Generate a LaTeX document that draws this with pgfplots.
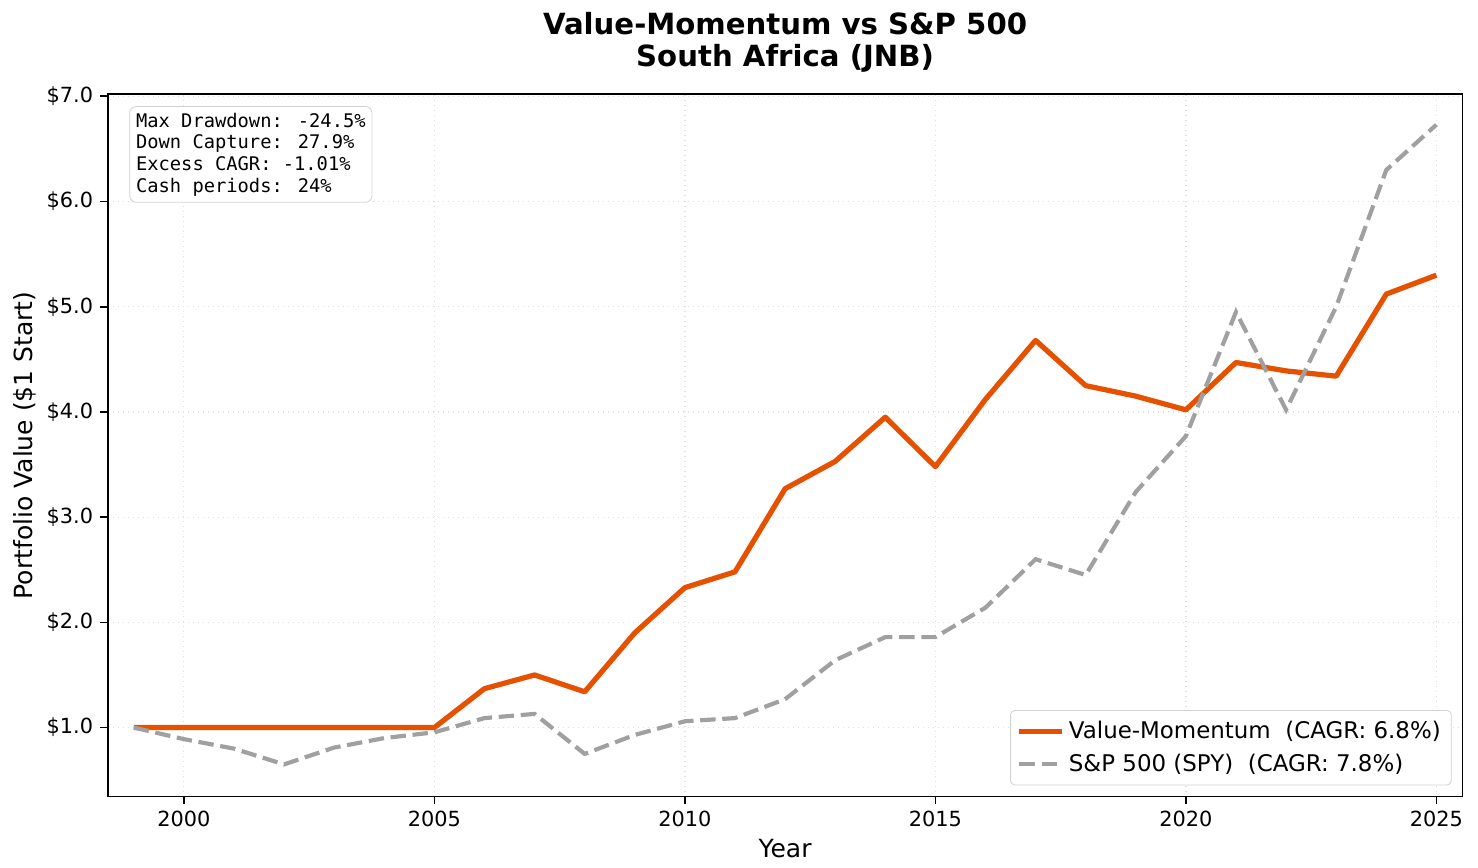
\documentclass[border=0pt]{standalone}
\usepackage{pgfplots}
\pgfplotsset{compat=1.18}
\usepackage{fontspec}
\setmainfont{DejaVu Sans}
\newfontfamily\monofont{DejaVu Sans Mono}
\definecolor{vmorange}{RGB}{230,81,0}
\definecolor{spygray}{RGB}{160,160,160}
\begin{document}
\begin{tikzpicture}
\begin{axis}[
  scale only axis,
  width=650pt, height=337pt,
  xmin=1998.48, xmax=2025.52,
  ymin=0.344, ymax=7.02,
  xtick={2000,2005,2010,2015,2020,2025},
  xticklabels={2000,2005,2010,2015,2020,2025},
  ytick={1,2,3,4,5,6,7},
  yticklabels={\$1.0,\$2.0,\$3.0,\$4.0,\$5.0,\$6.0,\$7.0},
  tick align=outside,
  tick pos=left,
  major tick length=3.5pt,
  every tick/.style={black, line width=0.8pt},
  axis line style={black, line width=0.8pt},
  tick label style={font=\fontsize{10}{12}\selectfont},
  xlabel={Year},
  ylabel={Portfolio Value (\$1 Start)},
  label style={font=\fontsize{12}{14}\selectfont},
  xlabel style={yshift=1pt},
  ylabel style={yshift=-2pt},
  grid=major,
  major grid style={gray!25, dotted, line width=0.6pt},
  title={Value-Momentum vs S\&P 500\\South Africa (JNB)},
  title style={font=\bfseries\fontsize{14}{15.5}\selectfont, align=center, yshift=1pt},
  legend style={font=\fontsize{11}{13}\selectfont, draw=gray!35, rounded corners=2pt, fill=white, at={(0.992,0.016)}, anchor=south east, row sep=2pt, inner xsep=3pt, inner ysep=3pt},
  legend cell align=left,
  legend image post style={xscale=1.2},
  clip=false,
]
\addplot[vmorange, line width=2.5pt, line join=round] coordinates {
(1999,1.0)(2000,1.0)(2001,1.0)(2002,1.0)(2003,1.0)(2004,1.0)(2005,1.0)
(2006,1.37)(2007,1.50)(2008,1.34)(2009,1.90)(2010,2.33)(2011,2.48)
(2012,3.27)(2013,3.53)(2014,3.95)(2015,3.48)(2016,4.12)(2017,4.68)
(2018,4.25)(2019,4.15)(2020,4.02)(2021,4.47)(2022,4.39)(2023,4.34)
(2024,5.12)(2025,5.30)};
\addlegendentry{Value-Momentum\ \ (CAGR: 6.8\%)}
\addplot[spygray, line width=2pt, dash pattern=on 7.4pt off 3.2pt] coordinates {
(1999,1.0)(2000,0.89)(2001,0.80)(2002,0.65)(2003,0.81)(2004,0.90)(2005,0.955)
(2006,1.09)(2007,1.13)(2008,0.75)(2009,0.93)(2010,1.06)(2011,1.09)
(2012,1.27)(2013,1.64)(2014,1.86)(2015,1.86)(2016,2.14)(2017,2.60)
(2018,2.45)(2019,3.24)(2020,3.77)(2021,4.95)(2022,4.02)(2023,5.00)
(2024,6.30)(2025,6.73)};
\addlegendentry{S\&P 500 (SPY)\ \ (CAGR: 7.8\%)}
\node[anchor=north west, draw=gray!35, rounded corners=3pt, fill=white, align=left,
  font=\monofont\fontsize{9}{10.4}\selectfont, inner sep=3pt]
  at (rel axis cs:0.016,0.983)
  {Max Drawdown: -24.5\%\\Down Capture: 27.9\%\\Excess CAGR: -1.01\%\\Cash periods: 24\%};
\end{axis}
\coordinate (bbsw) at (current bounding box.south west);
\coordinate (bbne) at (current bounding box.north east);
\path ([shift={(-3.3pt,-1.4pt)}]bbsw) rectangle ([shift={(3.9pt,2.4pt)}]bbne);
\end{tikzpicture}
\end{document}
